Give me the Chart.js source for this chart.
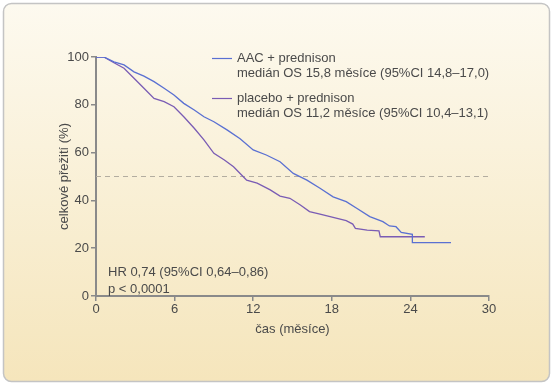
<!DOCTYPE html>
<html><head><meta charset="utf-8">
<script src="https://cdn.jsdelivr.net/npm/chart.js@4/dist/chart.umd.min.js"></script>
<style>html,body{margin:0;padding:0;background:#fff;}#wrap{position:relative;width:553px;height:385px;}canvas{display:block;}</style>
</head><body><div id="wrap"><canvas id="c" width="553" height="385"></canvas></div>
<script>
const seriesNames = ["AAC + prednison", "placebo + prednison"];
const seriesNotes = ["medián OS 15,8 měsíce (95%CI 14,8–17,0)", "medián OS 11,2 měsíce (95%CI 10,4–13,1)"];
const xTicks = [0, 6, 12, 18, 24, 30];
const yTicks = [0, 20, 40, 60, 80, 100];
const aacMonths = [0, 0.6, 1.37, 2.14, 2.9, 3.66, 4.43, 5.2, 5.95, 6.7, 7.5, 8.24, 9.0, 10.0, 11.0, 12.0, 13.0, 14.05, 15.06, 16.1, 17.1, 18.1, 19.1, 19.9, 20.9, 21.9, 22.4, 22.9, 23.3, 24.15, 24.15, 27.1];
const aacSurv   = [100, 100, 98.0, 96.7, 93.8, 92.0, 89.7, 86.9, 84.1, 80.6, 77.8, 75.0, 72.9, 69.5, 65.8, 61.1, 59.0, 56.2, 51.3, 48.5, 45.1, 41.5, 39.5, 36.7, 33.2, 31.1, 29.3, 29.0, 26.6, 25.8, 22.3, 22.3];
const plcMonths = [0, 0.6, 1.37, 2.14, 2.9, 3.66, 4.43, 5.2, 5.95, 6.7, 7.5, 8.24, 9.0, 9.8, 10.5, 11.3, 11.5, 12.3, 13.3, 14.05, 14.8, 15.6, 16.3, 17.1, 18.1, 19.1, 19.6, 19.8, 20.7, 21.6, 21.7, 25.1];
const plcSurv   = [100, 100, 97.6, 95.3, 91.1, 86.9, 82.7, 81.3, 79.2, 75.0, 70.2, 65.3, 59.7, 56.9, 54.1, 49.6, 48.5, 47.2, 44.4, 41.8, 40.9, 38.1, 35.3, 34.3, 32.9, 31.5, 30.1, 28.3, 27.6, 27.3, 24.8, 24.8];
const medianLine = [50, 50];
const hrText = ["HR 0,74 (95%CI 0,64–0,86)", "p < 0,0001"];
const yTitle = "celkové přežití (%)";
const xTitle = "čas (měsíce)";

const FONT = "'Liberation Sans', Arial, sans-serif";
const TXT = "#4a4a4a";
const BLUE = "#5a70d2";
const PURPLE = "#7a5cb4";
const AXIS = "#8a8a8a";

const toPts = (xs, ys) => xs.map((x, i) => ({x, y: ys[i]}));

const bgPlugin = {
  id: 'bg',
  beforeDraw(chart) {
    const ctx = chart.ctx;
    ctx.save();
    const g = ctx.createLinearGradient(0, 0, 0, 385);
    g.addColorStop(0, '#fdfaf0');
    g.addColorStop(1, '#f5e5bb');
    const x = 3.5, y = 3.5, w = 546, h = 378, r = 8;
    ctx.beginPath();
    ctx.moveTo(x + r, y);
    ctx.arcTo(x + w, y, x + w, y + h, r);
    ctx.arcTo(x + w, y + h, x, y + h, r);
    ctx.arcTo(x, y + h, x, y, r);
    ctx.arcTo(x, y, x + w, y, r);
    ctx.closePath();
    ctx.fillStyle = g;
    ctx.fill();
    ctx.strokeStyle = '#c4c4c4';
    ctx.lineWidth = 1.5;
    ctx.stroke();
    ctx.restore();
  }
};

const textPlugin = {
  id: 'texts',
  afterDraw(chart) {
    const ctx = chart.ctx;
    ctx.save();
    ctx.font = "13px " + FONT;
    ctx.fillStyle = TXT;
    ctx.textBaseline = 'middle';
    ctx.textAlign = 'left';
    const colors = [BLUE, PURPLE];
    const ys = [58, 98];
    for (let i = 0; i < 2; i++) {
      ctx.strokeStyle = colors[i];
      ctx.lineWidth = 1.2;
      ctx.beginPath();
      ctx.moveTo(212, ys[i] + 0.5);
      ctx.lineTo(232, ys[i] + 0.5);
      ctx.stroke();
      ctx.fillStyle = TXT;
      ctx.fillText(seriesNames[i], 237, ys[i]);
      ctx.fillText(seriesNotes[i], 237, ys[i] + 15.5);
    }
    ctx.fillText(hrText[0], 108, 272);
    ctx.fillText(hrText[1], 108, 289);
    ctx.restore();
  }
};

new Chart(document.getElementById('c'), {
  type: 'line',
  data: {
    datasets: [
      { label: seriesNames[0], data: toPts(aacMonths, aacSurv), borderColor: BLUE, borderWidth: 1.3, pointRadius: 0, tension: 0, fill: false },
      { label: seriesNames[1], data: toPts(plcMonths, plcSurv), borderColor: PURPLE, borderWidth: 1.3, pointRadius: 0, tension: 0, fill: false },
      { label: 'median', data: toPts([0, 30], medianLine), borderColor: '#b3ada0', borderWidth: 1.2, borderDash: [5, 4], pointRadius: 0, fill: false }
    ]
  },
  options: {
    responsive: false,
    animation: false,
    devicePixelRatio: 1,
    layout: { padding: { left: 57, top: 57, right: 64, bottom: 48 } },
    plugins: { legend: { display: false }, tooltip: { enabled: false } },
    scales: {
      x: {
        type: 'linear', min: 0, max: 30,
        afterBuildTicks(s) { s.ticks = xTicks.map(v => ({value: v})); },
        afterFit(s) { s.height = 41; },
        grid: { drawOnChartArea: false, drawTicks: true, tickLength: 5, color: AXIS, lineWidth: 1.5 },
        border: { display: true, color: AXIS, width: 2 },
        ticks: { color: TXT, font: { family: FONT, size: 13 }, padding: 1, maxRotation: 0 },
        title: { display: true, text: xTitle, color: TXT, font: { family: FONT, size: 13 }, padding: { top: 0, bottom: 0 } }
      },
      y: {
        type: 'linear', min: 0, max: 100,
        afterBuildTicks(s) { s.ticks = yTicks.map(v => ({value: v})); },
        afterFit(s) { s.width = 39; },
        grid: { drawOnChartArea: false, drawTicks: true, tickLength: 5, color: AXIS, lineWidth: 1.5 },
        border: { display: true, color: AXIS, width: 2 },
        ticks: { color: TXT, font: { family: FONT, size: 13 }, padding: 2 },
        title: { display: true, text: yTitle, color: TXT, font: { family: FONT, size: 13 }, padding: { top: 0, bottom: 0 } }
      }
    }
  },
  plugins: [bgPlugin, textPlugin]
});
</script></body></html>
